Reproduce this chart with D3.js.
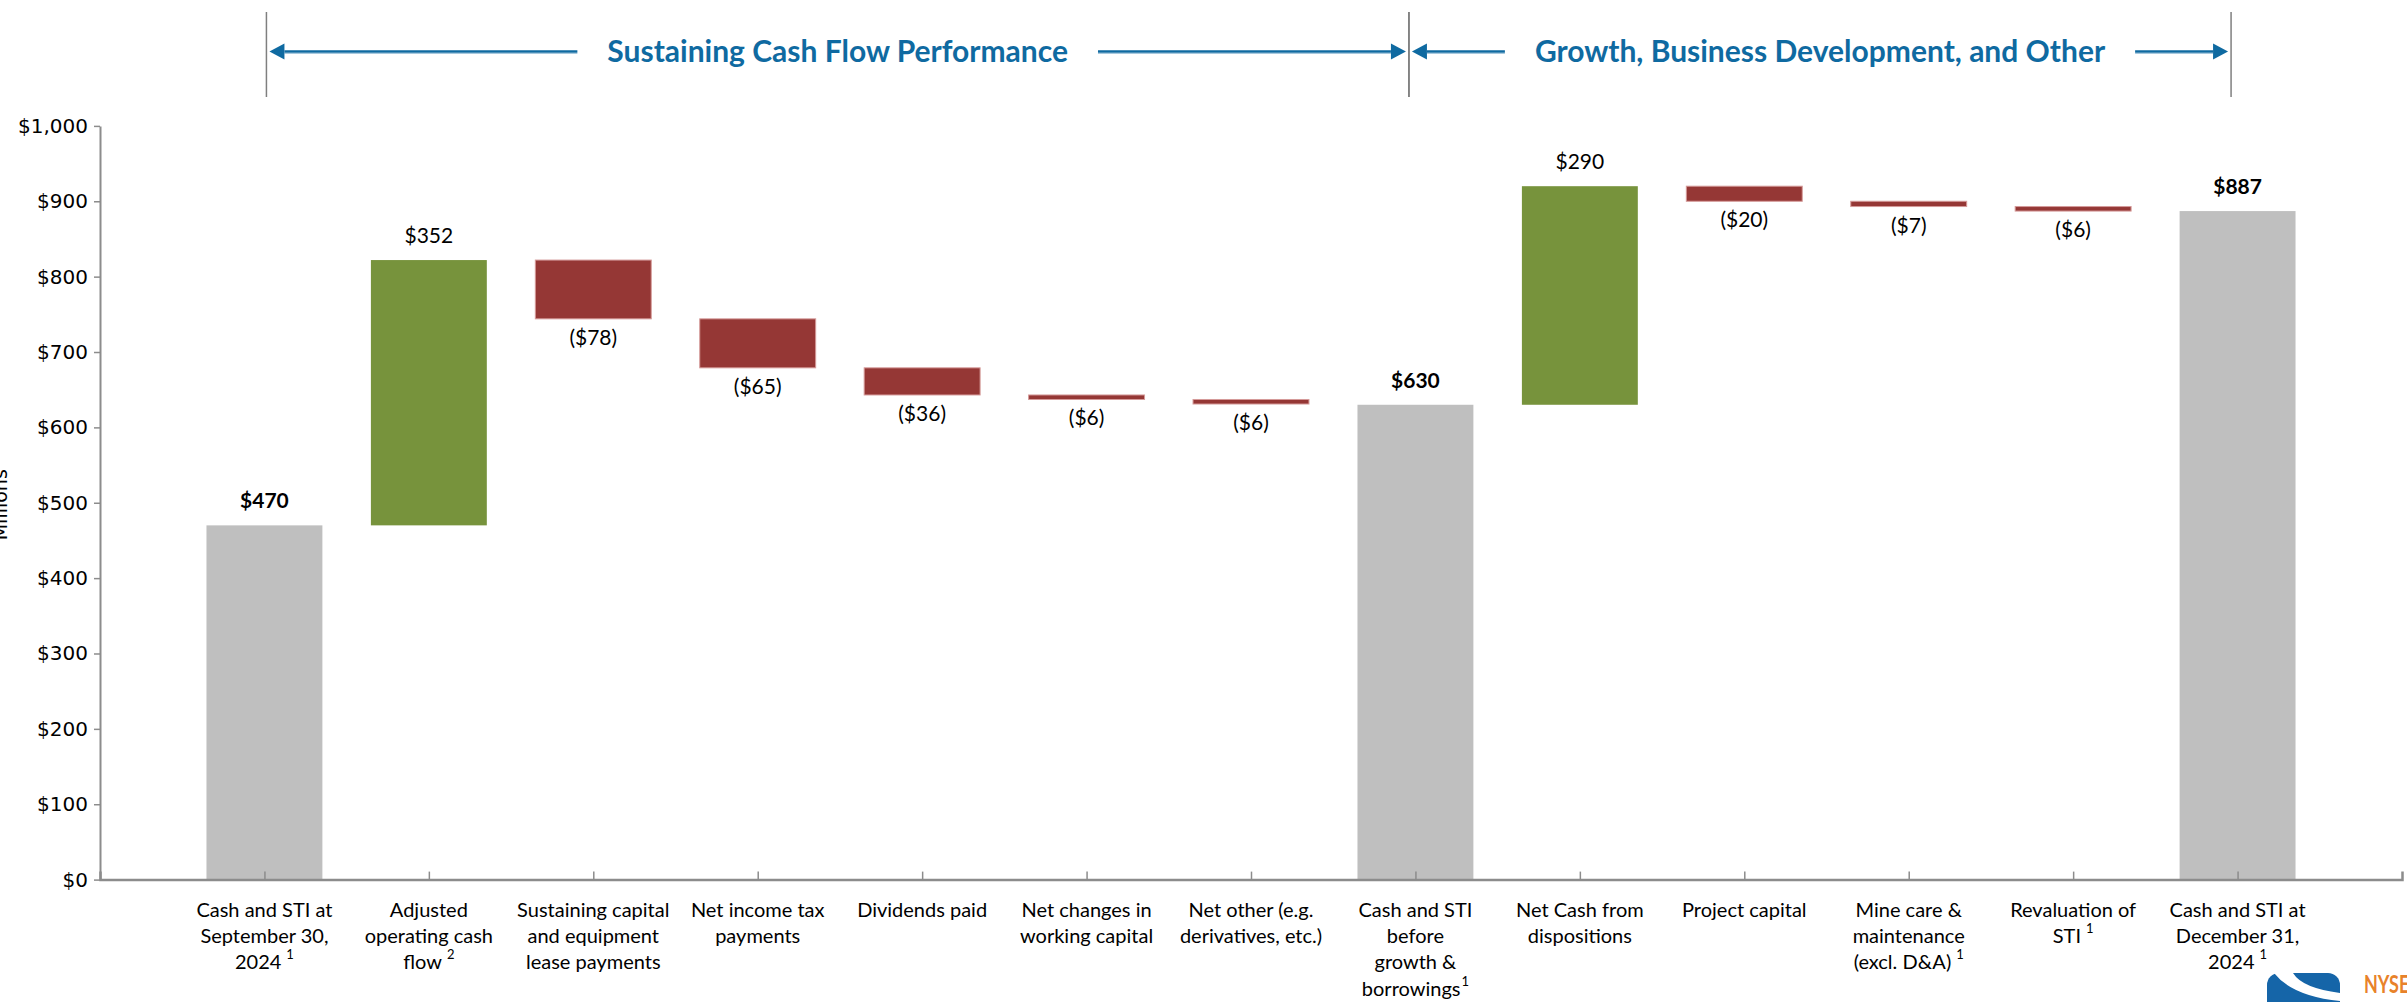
<!DOCTYPE html>
<html>
<head>
<meta charset="utf-8">
<script src="https://cdn.jsdelivr.net/npm/d3@7"></script>
<style>
body { margin: 0; background: #fff; overflow: hidden; }
svg { display: block; }
.narrow { font-family: Lato, "Liberation Sans Narrow", sans-serif; }
.axis text { font-family: "DejaVu Sans", Verdana, sans-serif; font-size: 20px; fill: #000; }
.axis path, .axis line { stroke: #8c8c8c; }
</style>
</head>
<body>
<script>
(function() {

"use strict";

const LABELS = [
	["Cash and STI at", "September 30,", "2024"],
	["Adjusted", "operating cash", "flow"],
	["Sustaining capital", "and equipment", "lease payments"],
	["Net income tax", "payments"],
	["Dividends paid"],
	["Net changes in", "working capital"],
	["Net other (e.g.", "derivatives, etc.)"],
	["Cash and STI", "before", "growth &", "borrowings"],
	["Net Cash from", "dispositions"],
	["Project capital"],
	["Mine care &", "maintenance", "(excl. D&A)"],
	["Revaluation of", "STI"],
	["Cash and STI at", "December 31,", "2024"],
];

const FOOTNOTES = ["1", "2", "", "", "", "", "", "1", "", "", "1", "1", "1"];
const FOOTNOTE_SPACE = [true, true, false, false, false, false, false, false, false, false, true, true, true];

// millions of dollars
const VALUES = [470, 352, -78, -65, -36, -6, -6, 630, 290, -20, -7, -6, 887];
const IS_TOTAL = [true, false, false, false, false, false, false, true, false, false, false, false, true];

const Y_TICKS = [0, 100, 200, 300, 400, 500, 600, 700, 800, 900, 1000];

const SECTIONS = ["Sustaining Cash Flow Performance", "Growth, Business Development, and Other"];
const SECTION_BOUNDS = [[0, 7], [7, 12]];

const COLOR = {
	total: "#bfbfbf",
	up: "#77933c",
	down: "#953735",
	header: "#0f6aa1",
};

const width = 2407, height = 1002;

let svg = d3.select("body").append("svg")
	.attr("width", width)
	.attr("height", height);

let x = d3.scalePoint()
	.domain(d3.range(VALUES.length))
	.range([100, 2402])
	.padding(1);

let y = d3.scaleLinear()
	.domain([0, 1000])
	.range([879.6, 125.9]);

let barWidth = x.step() * 0.705;

// separators sit a little inside the outer category centres
let separator = k => x(k) + (k == 0 ? 2 : -6.5);

// waterfall steps
let running = 0;
let bars = VALUES.map((v, i) => {
	let lo, hi, kind;
	if (IS_TOTAL[i]) {
		lo = 0; hi = v; running = v; kind = "total";
	} else {
		lo = Math.min(running, running + v);
		hi = Math.max(running, running + v);
		running += v;
		kind = v >= 0 ? "up" : "down";
	}
	return {i, v, lo, hi, kind};
});

// axes
svg.append("g")
	.attr("class", "axis y")
	.attr("transform", "translate(100,0)")
	.call(d3.axisLeft(y)
		.tickValues(Y_TICKS)
		.tickSize(6)
		.tickSizeOuter(0)
		.tickPadding(6)
		.tickFormat(d => "$" + d3.format(",")(d)))
	.call(g => g.select(".domain").attr("stroke-width", 2))
	.call(g => g.selectAll(".tick line").attr("stroke-width", 1.5));

svg.append("text")
	.attr("transform", `translate(7,${(y(0) + y(1000)) / 2 + 2}) rotate(-90)`)
	.attr("text-anchor", "middle")
	.style("font-family", "DejaVu Sans, sans-serif")
	.style("font-size", "19px")
	.text("Millions");

// bars
svg.append("g")
	.selectAll("rect")
	.data(bars)
	.join("rect")
		.attr("x", d => x(d.i) - barWidth / 2)
		.attr("y", d => y(d.hi))
		.attr("width", barWidth)
		.attr("height", d => Math.max(1, y(d.lo) - y(d.hi)))
		.attr("fill", d => COLOR[d.kind])
		.attr("stroke", d => d.kind == "down" ? "#d59a99" : "none")
		.attr("stroke-width", 1);

svg.append("g")
	.attr("class", "axis x")
	.attr("transform", `translate(0,${y(0)})`)
	.call(d3.axisBottom(x)
		.tickSize(-8)
		.tickSizeOuter(-8)
		.tickFormat(""))
	.call(g => g.select(".domain").attr("stroke-width", 2.5))
	.call(g => g.selectAll(".tick line").attr("stroke-width", 1.5));

// value labels
svg.append("g")
	.attr("class", "narrow")
	.selectAll("text")
	.data(bars)
	.join("text")
		.attr("x", d => x(d.i))
		.attr("y", d => d.v >= 0 ? y(d.hi) - 17 : y(d.lo) + 26)
		.attr("text-anchor", "middle")
		.style("font-size", "21px")
		.style("font-weight", d => d.kind == "total" ? "bold" : "normal")
		.text(d => d.v >= 0 ? "$" + d.v : "($" + Math.abs(d.v) + ")");

// category labels
let labels = svg.append("g")
	.attr("class", "narrow")
	.style("font-size", "20px")
	.selectAll("text")
	.data(LABELS)
	.join("text")
		.attr("text-anchor", "middle")
		.attr("y", 917);

labels.each(function(lines, i) {
	let t = d3.select(this);
	lines.forEach((line, j) => {
		t.append("tspan")
			.attr("x", x(i))
			.attr("dy", j == 0 ? 0 : 26.2)
			.text(line);
	});
	if (FOOTNOTES[i]) {
		t.append("tspan")
			.attr("dx", FOOTNOTE_SPACE[i] ? 5 : 1)
			.attr("dy", -10)
			.style("font-size", "13px")
			.text(FOOTNOTES[i]);
	}
});

// section headers
let arrowY = 51.5;
let sections = svg.append("g");

SECTION_BOUNDS.forEach(([a, b]) => {
	[a, b].forEach(k => {
		sections.append("line")
			.attr("x1", separator(k)).attr("x2", separator(k))
			.attr("y1", 12).attr("y2", 97)
			.attr("stroke", "#7f7f7f")
			.attr("stroke-width", 1.5);
	});
});

SECTIONS.forEach((name, s) => {
	let [a, b] = SECTION_BOUNDS[s];
	let left = separator(a) + 3, right = separator(b) - 3;
	let cx = (left + right) / 2;

	let label = sections.append("text")
		.attr("class", "narrow")
		.attr("x", cx)
		.attr("y", arrowY + 10.5)
		.attr("text-anchor", "middle")
		.style("font-size", "30px")
		.style("font-weight", "bold")
		.attr("fill", COLOR.header)
		.text(name);

	let w = label.node().getComputedTextLength();
	let gap = 30, head = 15;

	[[left, cx - w / 2 - gap, 1], [right, cx + w / 2 + gap, -1]].forEach(([tip, end, dir]) => {
		sections.append("line")
			.attr("x1", tip + dir * head).attr("x2", end)
			.attr("y1", arrowY).attr("y2", arrowY)
			.attr("stroke", COLOR.header)
			.attr("stroke-width", 2.5);
		sections.append("line")
			.attr("x1", tip + dir * head).attr("x2", end)
			.attr("y1", arrowY + 2).attr("y2", arrowY + 2)
			.attr("stroke", "#a8c9de")
			.attr("stroke-width", 1);
		sections.append("path")
			.attr("d", `M${tip},${arrowY}L${tip + dir * head},${arrowY - 8}L${tip + dir * head},${arrowY + 8}Z`)
			.attr("fill", COLOR.header);
	});
});

// corner logo
let logo = svg.append("g");
logo.append("rect")
	.attr("x", 2267).attr("y", 973)
	.attr("width", 73).attr("height", 60)
	.attr("rx", 12)
	.attr("fill", "#1565a8");
logo.append("path")
	.attr("d", "M2274,973Q2292,996 2340,1001L2340,993Q2302,988 2293,973Z")
	.attr("fill", "#fff");
logo.append("text")
	.attr("class", "narrow")
	.attr("transform", "translate(2364,993) scale(0.72,1)")
	.style("font-size", "25px")
	.style("font-weight", "bold")
	.attr("fill", "#e8822a")
	.text("NYSE");

})();
</script>
</body>
</html>
